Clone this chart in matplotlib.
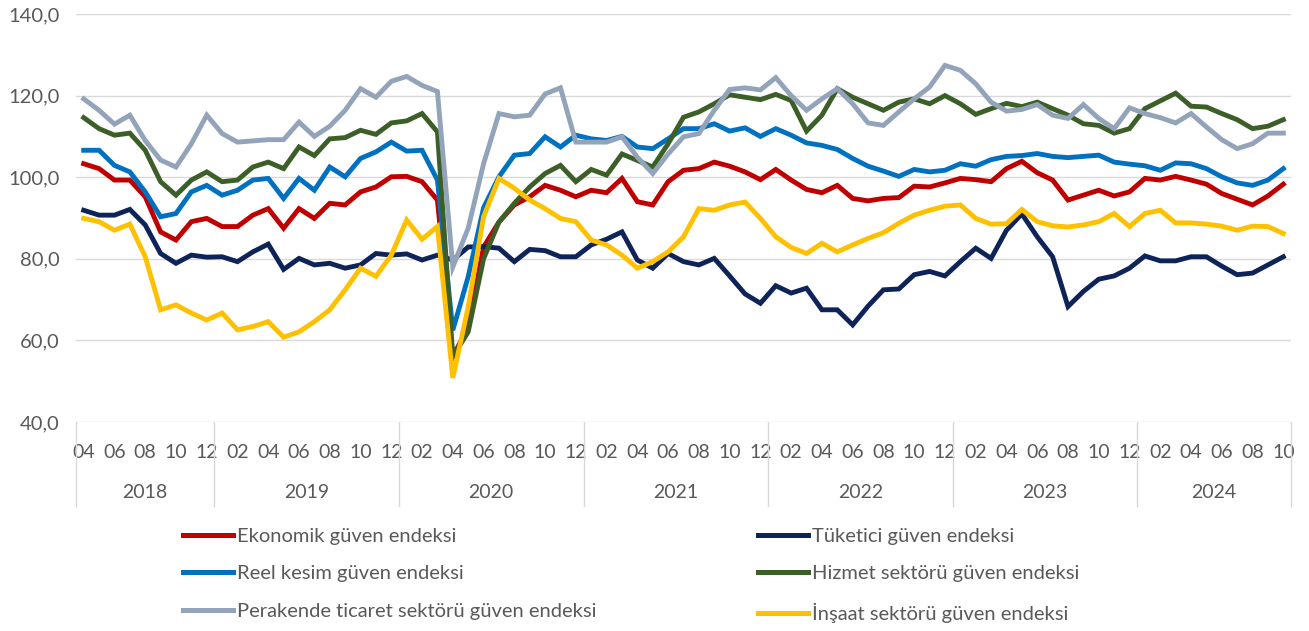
import numpy as np
import matplotlib.pyplot as plt
from matplotlib.lines import Line2D
import matplotlib.transforms as mtransforms

# monthly, 2018-04 .. 2024-10
years = ['2018', '2019', '2020', '2021', '2022', '2023', '2024']
year_months = [9, 12, 12, 12, 12, 12, 10]
first_month = 4

ekonomik = [103.3, 102.1, 99.3, 99.3, 95.2, 86.6, 84.6, 89.1, 89.9, 87.9, 87.9, 90.7, 92.3, 87.5, 92.3, 89.9,
            93.6, 93.2, 96.4, 97.6, 100.1, 100.2, 98.9, 94.4, 56.0, 63.3, 82.9, 89.0, 93.2, 95.2, 98.0, 96.8,
            95.2, 96.8, 96.2, 99.7, 94.0, 93.2, 98.9, 101.7, 102.1, 103.7, 102.7, 101.3, 99.4, 101.9, 99.3, 97.0,
            96.2, 98.0, 94.8, 94.2, 94.8, 95.0, 97.8, 97.6, 98.6, 99.7, 99.4, 98.9, 102.1, 103.9, 101.1, 99.3,
            94.4, 95.6, 96.8, 95.4, 96.4, 99.7, 99.3, 100.2, 99.3, 98.3, 96.0, 94.6, 93.2, 95.4, 98.3]
tuketici = [91.9, 90.7, 90.7, 92.1, 88.3, 81.3, 78.9, 80.9, 80.4, 80.5, 79.3, 81.7, 83.6, 77.4, 80.1, 78.5,
            78.9, 77.7, 78.5, 81.3, 80.9, 81.2, 79.7, 80.9, 79.7, 82.9, 83.0, 82.6, 79.3, 82.3, 82.0, 80.5,
            80.5, 83.4, 84.8, 86.6, 79.7, 77.7, 81.3, 79.3, 78.5, 80.1, 75.8, 71.4, 69.1, 73.4, 71.6, 72.8,
            67.5, 67.5, 63.8, 68.4, 72.4, 72.6, 76.1, 76.9, 75.8, 79.3, 82.6, 80.1, 87.0, 91.0, 85.4, 80.5,
            68.3, 72.0, 75.0, 75.8, 77.7, 80.7, 79.5, 79.5, 80.5, 80.5, 78.2, 76.1, 76.5, 78.5, 80.5]
reel = [106.6, 106.6, 102.9, 101.3, 96.4, 90.3, 91.1, 96.4, 98.0, 95.6, 96.8, 99.3, 99.7, 94.8, 99.7, 96.8,
        102.5, 100.1, 104.6, 106.2, 108.6, 106.4, 106.6, 99.3, 62.5, 75.6, 92.5, 100.1, 105.4, 105.8, 109.9, 107.4,
        110.3, 109.4, 109.0, 110.0, 107.4, 107.0, 109.4, 111.9, 111.9, 113.1, 111.3, 112.1, 110.0, 111.9, 110.3, 108.4,
        107.8, 106.8, 104.6, 102.7, 101.5, 100.2, 101.9, 101.3, 101.7, 103.3, 102.7, 104.3, 105.1, 105.3, 105.8, 105.1,
        104.8, 105.1, 105.4, 103.7, 103.2, 102.8, 101.7, 103.5, 103.3, 102.1, 100.1, 98.6, 98.0, 99.3, 102.1]
hizmet = [114.6, 111.9, 110.3, 110.8, 106.6, 98.9, 95.6, 99.3, 101.3, 98.9, 99.3, 102.5, 103.7, 102.1, 107.4, 105.3,
          109.4, 109.7, 111.5, 110.5, 113.3, 113.8, 115.6, 111.1, 56.0, 62.1, 80.0, 89.0, 93.6, 97.6, 100.9, 102.9,
          98.9, 101.9, 100.5, 105.7, 104.1, 102.5, 108.2, 114.7, 116.0, 118.0, 120.2, 119.6, 119.0, 120.3, 118.8, 111.3,
          115.2, 121.7, 119.6, 118.0, 116.4, 118.4, 119.2, 118.0, 120.0, 118.0, 115.4, 116.8, 118.1, 117.3, 118.4, 116.8,
          115.2, 113.1, 112.7, 110.8, 111.9, 116.8, 118.7, 120.6, 117.4, 117.2, 115.6, 114.1, 111.9, 112.5, 114.1]
perakende = [119.2, 116.4, 113.0, 115.2, 109.0, 104.2, 102.5, 108.2, 115.2, 110.7, 108.6, 108.9, 109.2, 109.2, 113.5, 110.0,
             112.5, 116.4, 121.7, 119.6, 123.5, 124.7, 122.5, 121.0, 78.0, 87.5, 103.3, 115.6, 114.8, 115.2, 120.4, 121.9,
             108.6, 108.6, 108.6, 109.9, 104.9, 100.9, 105.7, 109.9, 110.7, 116.4, 121.5, 121.9, 121.4, 124.4, 120.0, 116.4,
             119.2, 121.7, 118.0, 113.3, 112.7, 116.0, 119.2, 122.1, 127.4, 126.2, 122.9, 118.4, 116.2, 116.6, 117.8, 115.2,
             114.4, 117.8, 114.4, 111.9, 117.0, 115.6, 114.6, 113.3, 115.6, 112.3, 109.2, 107.0, 108.2, 110.8, 110.8]
insaat = [89.9, 89.1, 87.0, 88.5, 80.5, 67.5, 68.7, 66.7, 65.0, 66.7, 62.6, 63.4, 64.6, 60.8, 62.1, 64.6,
          67.5, 72.4, 77.7, 75.7, 80.9, 89.5, 84.8, 87.9, 50.8, 68.2, 90.3, 99.7, 97.3, 94.4, 92.3, 89.9,
          89.1, 84.6, 83.4, 80.9, 77.7, 79.3, 81.7, 85.4, 92.3, 91.9, 93.2, 93.9, 89.9, 85.4, 82.8, 81.3,
          83.8, 81.7, 83.4, 85.0, 86.4, 88.7, 90.7, 91.9, 92.9, 93.2, 89.9, 88.5, 88.6, 92.1, 89.1, 88.1,
          87.8, 88.3, 89.1, 91.1, 87.9, 91.1, 91.9, 88.8, 88.8, 88.5, 88.0, 87.0, 88.0, 87.9, 86.2]

series = [
    ("Ekonomik güven endeksi", ekonomik, "#C00000"),
    ("Tüketici güven endeksi", tuketici, "#0E2458"),
    ("Reel kesim güven endeksi", reel, "#0070C0"),
    ("Hizmet sektörü güven endeksi", hizmet, "#3C5F28"),
    ("Perakende ticaret sektörü güven endeksi", perakende, "#93A3BA"),
    ("İnşaat sektörü güven endeksi", insaat, "#FFC000"),
]

plt.rcParams['font.family'] = ['Lato', 'DejaVu Sans']
txt = '#595959'

fig = plt.figure(figsize=(13.09, 6.31), dpi=100)
ax = fig.add_axes([76 / 1309, 209 / 631, 1215 / 1309, 408 / 631])

n = len(ekonomik)
x = np.arange(n)
for name, vals, col in series:
    ax.plot(x, vals, color=col, lw=3.5, solid_joinstyle='miter', label=name)

ax.set_xlim(-0.5, n - 0.5)
ax.set_ylim(40, 140)
ax.set_yticks(np.arange(40, 141, 20))
ax.set_yticklabels([f"{v:.1f}".replace('.', ',') for v in np.arange(40, 141, 20)])
ax.grid(axis='y', color='#D9D9D9', lw=1)
ax.set_axisbelow(True)
for s in ax.spines.values():
    s.set_visible(False)

months = [(first_month - 1 + i) % 12 + 1 for i in range(n)]
ax.set_xticks(x[::2])
ax.set_xticklabels([f"{m:02d}" for m in months[::2]])
ax.tick_params(axis='x', length=0, pad=16, labelsize=14, labelcolor=txt)
ax.tick_params(axis='y', length=0, pad=12, labelsize=14.5, labelcolor=txt)

# year group labels and separators below the axis
trans = mtransforms.blended_transform_factory(ax.transData, ax.transAxes)
start = -0.5
bounds = [start]
for y, cnt in zip(years, year_months):
    end = start + cnt
    ax.text((start + end) / 2, -0.172, y, transform=trans, ha='center', va='center',
            fontsize=14, color=txt)
    bounds.append(end)
    start = end
for b in bounds:
    ax.plot([b, b], [0, -0.206], transform=trans, color='#D9D9D9', lw=1, clip_on=False)

handles = [Line2D([], [], color=c, lw=3.6) for _, _, c in series]
labels = [s[0] for s in series]
left_idx = [0, 2, 4]
right_idx = [1, 3, 5]
for idx, xpos in [(left_idx, 183), (right_idx, 758)]:
    fig.legend([handles[i] for i in idx], [labels[i] for i in idx],
               loc='upper left', bbox_to_anchor=(xpos / 1309, 1 - 528 / 631),
               frameon=False, fontsize=14.5, handlelength=2.5, handletextpad=0.2,
               labelspacing=1.0, borderpad=0, borderaxespad=0, labelcolor=txt)

fig.savefig('out.png', dpi=100)
